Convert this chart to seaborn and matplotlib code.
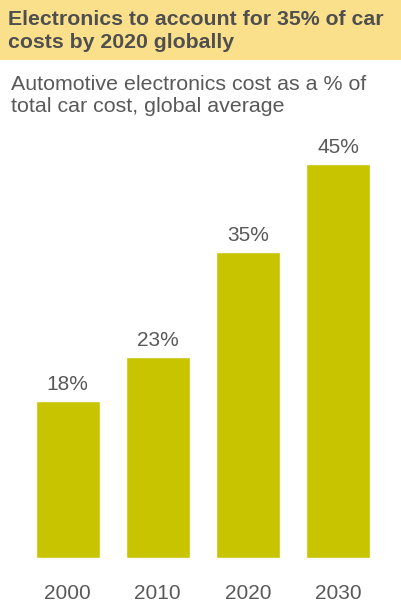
import matplotlib
matplotlib.use("Agg")
import matplotlib.pyplot as plt
import matplotlib.patches as mpatches
import seaborn as sns
import pandas as pd

years = ["2000", "2010", "2020", "2030"]
shares = [18, 23, 35, 45]
title = "Electronics to account for 35% of car\ncosts by 2020 globally"
subtitle = "Automotive electronics cost as a % of\ntotal car cost, global average"

bar_color = "#C8C400"
band_color = "#FAE08B"
text_dark = "#4F4F4F"
text_mid = "#595959"

sns.set_theme(style="white")
plt.rcParams["font.family"] = ["Liberation Sans", "DejaVu Sans"]

W, H = 401, 606
fig = plt.figure(figsize=(W / 100, H / 100), dpi=100)

# header band
fig.patches.append(mpatches.Rectangle((0, 1 - 60 / H), 1, 60 / H,
                                      transform=fig.transFigure,
                                      facecolor=band_color, edgecolor="none", zorder=0))
fig.text(8 / W, 1 - 31 / H, title, ha="left", va="center", fontsize=15.3,
         fontweight="bold", color=text_dark, linespacing=1.26)
fig.text(11 / W, 1 - 95.5 / H, subtitle, ha="left", va="center", fontsize=15.4,
         color=text_mid, linespacing=1.24)

ax = fig.add_axes([22.5 / W, 1 - 558 / H, 360.5 / W, 437.5 / H])
df = pd.DataFrame({"year": years, "share": shares})
sns.barplot(data=df, x="year", y="share", color=bar_color, saturation=1,
            width=0.71, ax=ax)
ax.set_ylim(0, 50)
for cont in ax.containers:
    ax.bar_label(cont, labels=[f"{v}%" for v in shares], padding=5,
                 fontsize=15, color=text_mid)

ax.set_xlabel("")
ax.set_ylabel("")
ax.set_yticks([])
ax.tick_params(axis="x", length=0, pad=19, labelsize=15, labelcolor=text_mid)
for s in ax.spines.values():
    s.set_visible(False)
ax.patch.set_alpha(0)

fig.savefig("out.png", dpi=100)
